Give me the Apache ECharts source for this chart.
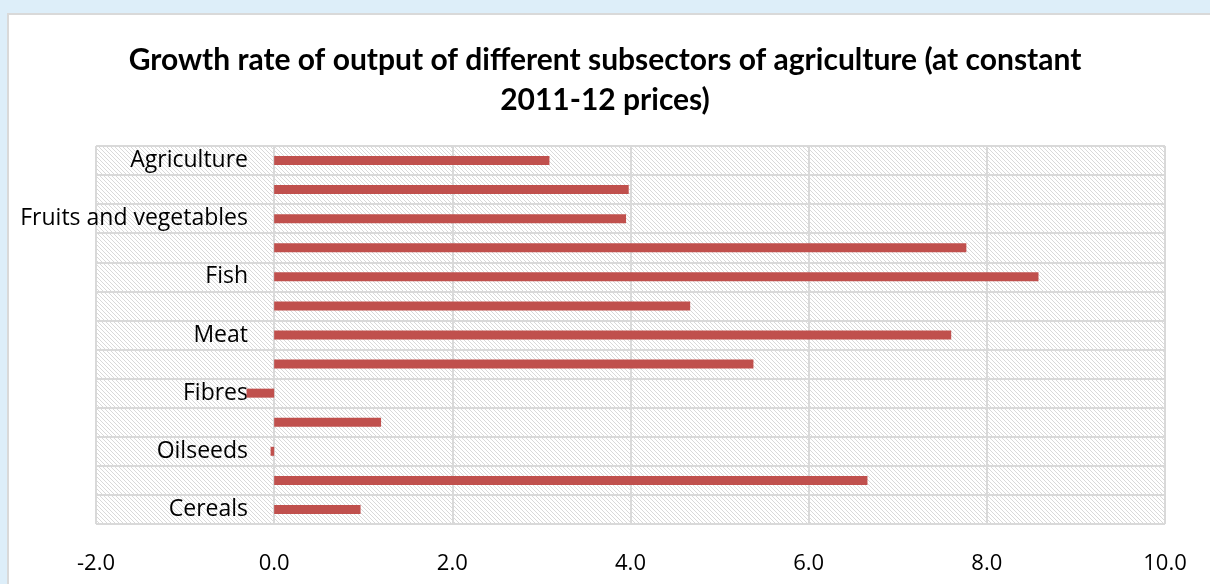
<!DOCTYPE html>
<html>
<head>
<meta charset="utf-8">
<script src="https://cdn.jsdelivr.net/npm/echarts@6/dist/echarts.min.js"></script>
<style>
  html, body { margin: 0; padding: 0; background: #ddeef9; width: 1210px; height: 584px; overflow: hidden; }
  #frame { position: absolute; left: 7px; top: 13px; width: 1215px; height: 590px; background: #fff; border: 2px solid #d9d9d9; box-sizing: border-box; }
  #chart { position: absolute; left: 0; top: 0; width: 1210px; height: 584px; }
</style>
</head>
<body>
<div id="frame"></div>
<div id="chart"></div>
<script>
// Subsectors, bottom to top; blank entries are rows whose names are not labelled
const categories = ["Cereals", "", "Oilseeds", "", "Fibres", "", "Meat", "", "Fish", "", "Fruits and vegetables", "", "Agriculture"];
// Growth rate (%) for each subsector, same order as categories
const growth = [0.97, 6.66, -0.04, 1.20, -0.31, 5.38, 7.60, 4.67, 8.58, 7.77, 3.95, 3.98, 3.09];
const xTicks = { min: -2, max: 10, step: 2 };

// Diagonal hatch tile for the plot background
function hatchTile() {
  const c = document.createElement('canvas');
  c.width = 8; c.height = 8;
  const g = c.getContext('2d');
  g.fillStyle = '#ffffff';
  g.fillRect(0, 0, 8, 8);
  g.fillStyle = '#d9d9d9';
  for (let i = 0; i < 8; i++) {
    g.fillRect(i, i, 1, 1);
    g.fillRect((i + 4) % 8, i, 1, 1);
  }
  return c;
}

const chart = echarts.init(document.getElementById('chart'), null, { renderer: 'canvas' });
chart.setOption({
  animation: false,
  backgroundColor: 'transparent',
  title: {
    text: 'Growth rate of output of different subsectors of agriculture (at constant\n2011-12 prices)',
    left: 'center',
    top: 35,
    textStyle: {
      fontFamily: 'Lato, "Open Sans", sans-serif',
      fontWeight: 'bold',
      fontSize: 30,
      lineHeight: 40,
      color: '#000'
    }
  },
  grid: {
    left: 96, right: 45, top: 146, bottom: 60,
    containLabel: false,
    outerBoundsMode: 'none',
    show: true,
    borderWidth: 0,
    backgroundColor: { image: hatchTile(), repeat: 'repeat' }
  },
  xAxis: {
    type: 'value',
    min: xTicks.min, max: xTicks.max, interval: xTicks.step,
    axisLine: { show: false },
    axisTick: { show: false },
    axisLabel: {
      margin: 29,
      fontFamily: '"Open Sans", sans-serif',
      fontSize: 22,
      color: '#000',
      formatter: v => v.toFixed(1)
    },
    splitLine: { show: true, lineStyle: { color: '#d9d9d9', width: 2 } }
  },
  yAxis: {
    type: 'category',
    data: categories,
    axisLine: { show: false, onZero: false },
    axisTick: { show: false },
    // category names sit just left of the zero line, inside the plot
    axisLabel: {
      interval: 0,
      margin: -152,
      align: 'right',
      fontFamily: '"Open Sans", sans-serif',
      fontSize: 23,
      color: '#000'
    },
    splitLine: { show: true, interval: 0, lineStyle: { color: '#d9d9d9', width: 2 } }
  },
  series: [{
    type: 'bar',
    data: growth,
    barWidth: 9,
    z: 5,
    itemStyle: { color: '#c0504d' }
  }]
});
</script>
</body>
</html>
